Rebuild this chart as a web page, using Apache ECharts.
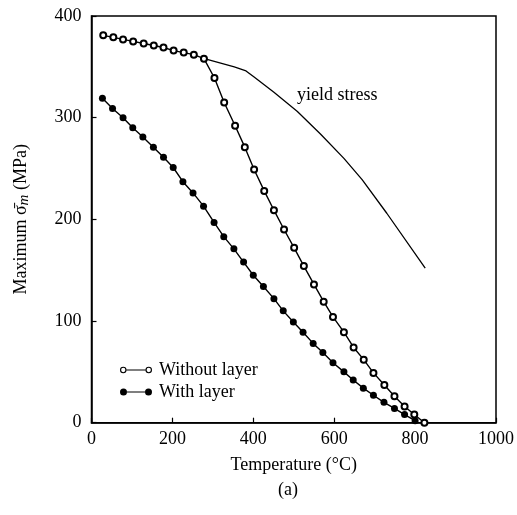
<!DOCTYPE html>
<html>
<head>
<meta charset="utf-8">
<script src="https://cdn.jsdelivr.net/npm/echarts@6/dist/echarts.min.js"></script>
<style>
html,body{margin:0;padding:0;background:#fff;}
#chart{width:517px;height:515px;}
</style>
</head>
<body>
<div id="chart"></div>
<script>
// Without layer (open circles)
var tempOpen = [29,54,78,103,129,154,178,203,228,253,278,304,328,355,379,402,427,451,476,501,525,550,574,597,624,648,673,697,724,749,774,798,823];
var stressOpen = [381,379,377,375,373,371,369,366,364,362,358,339,315,292,271,249,228,209,190,172,154,136,119,104,89,74,62,49,37,26,16,8,0];
// With layer (filled circles)
var tempFilled = [27,52,78,102,127,153,178,202,226,251,277,303,327,352,376,400,425,451,474,499,523,548,572,597,624,647,672,697,723,749,774,800];
var stressFilled = [319,309,300,290,281,271,261,251,237,226,213,197,183,171,158,145,134,122,110,99,89,78,69,59,50,42,34,27,20,14,8,2];
// Yield stress curve
var tempYield = [279,353,382,402,451,509,566,624,669,730,825];
var stressYield = [358,350,346,340,325,306,284,260,239,206,152];

var xTicks = [0,200,400,600,800,1000];
var yTicks = [0,100,200,300,400];
var seriesNames = ['Without layer','With layer'];

function pairs(xs, ys){ return xs.map(function(x,i){ return [x, ys[i]]; }); }

var FONT = 'Liberation Serif';
var iconOpen = 'path://M0.3,3.5A3.2,3.2,0,1,1,6.7,3.5A3.2,3.2,0,1,1,0.3,3.5Z M1.4,3.5A2.1,2.1,0,1,0,5.6,3.5A2.1,2.1,0,1,0,1.4,3.5Z M6.7,2.9L25.3,2.9L25.3,4.1L6.7,4.1Z M25.3,3.5A3.2,3.2,0,1,1,31.7,3.5A3.2,3.2,0,1,1,25.3,3.5Z M26.4,3.5A2.1,2.1,0,1,0,30.6,3.5A2.1,2.1,0,1,0,26.4,3.5Z';
var iconFilled = 'path://M0,3.5A3.5,3.5,0,1,1,7,3.5A3.5,3.5,0,1,1,0,3.5Z M7,2.9L25,2.9L25,4.1L7,4.1Z M25,3.5A3.5,3.5,0,1,1,32,3.5A3.5,3.5,0,1,1,25,3.5Z';

var chart = echarts.init(document.getElementById('chart'), null, {renderer:'canvas'});
chart.setOption({
  animation:false,
  backgroundColor:'#fff',
  grid:{left:91.5, top:16, right:19, bottom:92.3, show:true, borderColor:'#000', borderWidth:1.5, backgroundColor:'transparent'},
  xAxis:{
    type:'value', min:xTicks[0], max:xTicks[xTicks.length-1], interval:200,
    name:'Temperature (°C)', nameLocation:'middle', nameGap:34,
    nameTextStyle:{fontFamily:FONT, fontSize:18, color:'#000'},
    axisLine:{show:true, onZero:false, lineStyle:{color:'#000', width:1.5}},
    axisTick:{show:true, inside:true, length:5, lineStyle:{color:'#000', width:1.2}},
    axisLabel:{fontFamily:FONT, fontSize:18, color:'#000', margin:8, formatter:function(v){ return String(v); }},
    splitLine:{show:false}
  },
  yAxis:{
    type:'value', min:yTicks[0], max:yTicks[yTicks.length-1], interval:100,
    name:'{a|Maximum σ̄}{s|m}{a| (MPa)}', nameLocation:'middle', nameGap:60,
    nameTextStyle:{rich:{a:{fontFamily:FONT, fontSize:18, color:'#000'}, s:{fontFamily:FONT, fontSize:15, fontStyle:'italic', color:'#000', padding:[6,0,0,0]}}},
    axisLine:{show:true, onZero:false, lineStyle:{color:'#000', width:1.5}},
    axisTick:{show:true, inside:true, length:5, lineStyle:{color:'#000', width:1.2}},
    axisLabel:{fontFamily:FONT, fontSize:18, color:'#000', margin:10, formatter:function(v){ return String(v); }},
    splitLine:{show:false}
  },
  legend:{
    orient:'vertical', left:115, top:356, itemGap:4, itemWidth:32, itemHeight:7,
    textStyle:{fontFamily:FONT, fontSize:18, color:'#000', padding:[0,0,0,2]},
    data:[
      {name:seriesNames[0], icon:iconOpen, itemStyle:{color:'#000', borderWidth:0}},
      {name:seriesNames[1], icon:iconFilled, itemStyle:{color:'#000', borderWidth:0}}
    ]
  },
  graphic:[
    {type:'text', left:297, top:86, style:{text:'yield stress', fontFamily:FONT, fontSize:18, fill:'#000'}},
    {type:'text', left:278, top:481, style:{text:'(a)', fontFamily:FONT, fontSize:18, fill:'#000'}}
  ],
  series:[
    {name:'yield stress', type:'line', data:pairs(tempYield, stressYield), showSymbol:false, symbol:'none',
     lineStyle:{color:'#000', width:1.3}, itemStyle:{color:'#000'}, z:1},
    {name:seriesNames[0], type:'line', data:pairs(tempOpen, stressOpen), symbol:'emptyCircle', symbolSize:6,
     lineStyle:{color:'#000', width:1.4}, itemStyle:{color:'#000', borderWidth:1.3}, z:3},
    {name:seriesNames[1], type:'line', data:pairs(tempFilled, stressFilled), symbol:'circle', symbolSize:7,
     lineStyle:{color:'#000', width:1.4}, itemStyle:{color:'#000'}, z:2}
  ]
});
</script>
</body>
</html>
